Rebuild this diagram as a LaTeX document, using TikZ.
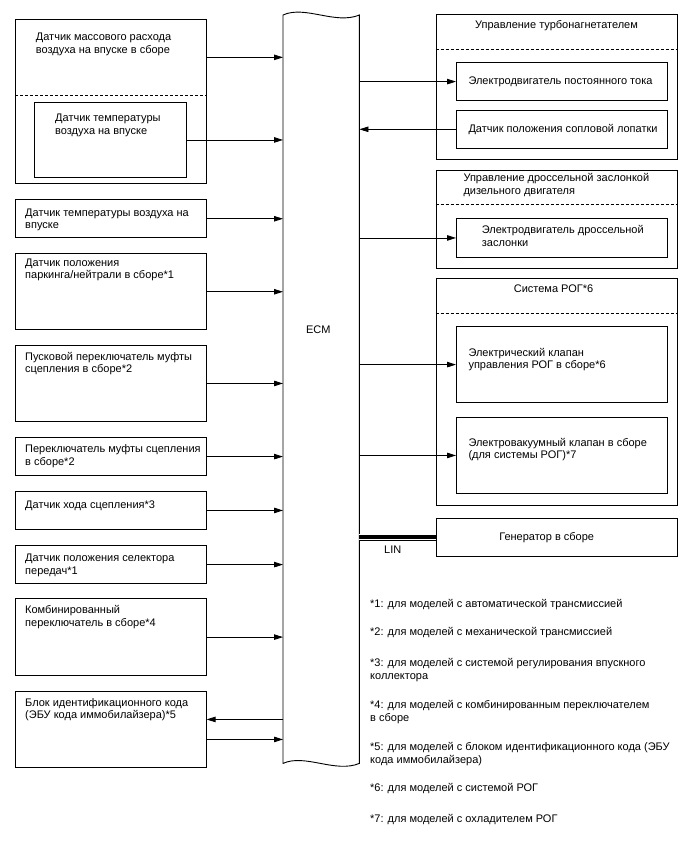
\documentclass[tikz,border=0pt]{standalone}
\usepackage{fontspec}
\setmainfont{Liberation Sans}
\usetikzlibrary{arrows.meta,positioning}

\begin{document}
\begin{tikzpicture}[
 x=1pt,y=-1pt,
 font=\fontsize{11}{12.5}\selectfont,
 blk/.style={draw,line width=0.9pt,anchor=north west,inner sep=0pt},
 part/.style={anchor=north west,inner sep=0pt},
 txt/.style={anchor=base west,align=left,inner sep=0pt},
 sep/.style={line width=0.9pt,dash pattern=on 3pt off 2pt},
 sig/.style={line width=0.8pt,-{Triangle[length=9pt,width=5.5pt]}},
]
\useasboundingbox (0,0) rectangle (688,852);

% ECM
\node[part,minimum width=76pt,minimum height=748pt] (ecm) at (283,15) {};
\draw[line width=0.9pt] (ecm.north west) .. controls ++(22,-10) and ++(-24,10) .. (ecm.north east)
  -- (ecm.south east) .. controls ++(-24,10) and ++(22,-10) .. (ecm.south west) -- cycle;
\node (ecmlbl) at (318.3,329.3) {ECM};

% left side
\node[blk,minimum width=190.4pt,minimum height=164pt] (mafbox) at (15.3,19.3) {};
\node[part,minimum width=190.4pt,minimum height=75.7pt] (maf) at (15.3,19.3) {};
\draw[sep] (maf.south west) -- (maf.south east);
\node[txt] (maftxt) at (35.7,53) {Датчик массового расхода\\воздуха на впуске в сборе};
\node[blk,minimum width=151.7pt,minimum height=75.6pt] (iat) at (34.3,101.7) {};
\node[txt] (iattxt) at (55,134.3) {Датчик температуры\\воздуха на впуске};

\node[blk,minimum width=190.4pt,minimum height=38pt] (iat2) at (15.3,199.3) {};
\node[txt] (iat2txt) at (25,228.7) {Датчик температуры воздуха на\\впуске};
\node[blk,minimum width=190.4pt,minimum height=76pt] (pnp) at (15.3,253.3) {};
\node[txt] (pnptxt) at (25,278.7) {Датчик положения\\паркинга/нейтрали в сборе*1};
\node[blk,minimum width=190.4pt,minimum height=76pt] (css) at (15.3,345) {};
\node[txt] (csstxt) at (25,372.7) {Пусковой переключатель муфты\\сцепления в сборе*2};
\node[blk,minimum width=190.4pt,minimum height=37.7pt] (cls) at (15.3,437.3) {};
\node[txt] (clstxt) at (25,465) {Переключатель муфты сцепления\\в сборе*2};
\node[blk,minimum width=190.4pt,minimum height=38pt] (cst) at (15.3,491) {};
\node[txt] (csttxt) at (25,508.5) {Датчик хода сцепления*3};
\node[blk,minimum width=190.4pt,minimum height=38.3pt] (sel) at (15.3,545) {};
\node[txt] (seltxt) at (25,574.3) {Датчик положения селектора\\передач*1};
\node[blk,minimum width=190.4pt,minimum height=76.7pt] (comb) at (15.3,598.3) {};
\node[txt] (combtxt) at (25,626) {Комбинированный\\переключатель в сборе*4};
\node[blk,minimum width=190.4pt,minimum height=76.6pt] (immo) at (15.3,690.7) {};
\node[txt] (immotxt) at (25,718.7) {Блок идентификационного кода\\(ЭБУ кода иммобилайзера)*5};

\draw[sig] (maf.east) -- (maf.east -| ecm.west);
\draw[sig] (iat.east) -- (iat.east -| ecm.west);
\draw[sig] (iat2.east) -- (iat2.east -| ecm.west);
\draw[sig] (pnp.east) -- (pnp.east -| ecm.west);
\draw[sig] (css.east) -- (css.east -| ecm.west);
\draw[sig] (cls.east) -- (cls.east -| ecm.west);
\draw[sig] (cst.east) -- (cst.east -| ecm.west);
\draw[sig] (sel.east) -- (sel.east -| ecm.west);
\draw[sig] (comb.east) -- (comb.east -| ecm.west);
\draw[sig] ([yshift=10pt]immo.east -| ecm.west) -- ([yshift=10pt]immo.east);
\draw[sig] ([yshift=-10pt]immo.east) -- ([yshift=-10pt]immo.east -| ecm.west);

% right side
\node[blk,minimum width=241.6pt,minimum height=145.3pt] (turbo) at (435.7,14) {};
\node[part,minimum width=241.6pt,minimum height=35.3pt] (turbohd) at (435.7,14) {};
\draw[sep] (turbohd.south west) -- (turbohd.south east);
\node[anchor=base,inner sep=0pt] (turbotxt) at (556.5,28.5) {Управление турбонагнетателем};
\node[blk,minimum width=210.7pt,minimum height=37.7pt] (dcm) at (456,62.3) {};
\node[txt] (dcmtxt) at (468.3,84.5) {Электродвигатель постоянного тока};
\node[blk,minimum width=210.7pt,minimum height=37.7pt] (vnt) at (456,110) {};
\node[txt] (vnttxt) at (468.3,132) {Датчик положения сопловой лопатки};

\node[blk,minimum width=241.6pt,minimum height=98.3pt] (thr) at (435.7,170) {};
\node[part,minimum width=241.6pt,minimum height=34.3pt] (thrhd) at (435.7,170) {};
\draw[sep] (thrhd.south west) -- (thrhd.south east);
\node[txt] (thrtxt) at (463.3,194.3) {Управление дроссельной заслонкой\\дизельного двигателя};
\node[blk,minimum width=210.7pt,minimum height=38.4pt] (thm) at (456,218.3) {};
\node[txt] (thmtxt) at (481.7,246) {Электродвигатель дроссельной\\заслонки};

\node[blk,minimum width=241.6pt,minimum height=227.3pt] (egr) at (435.7,277.7) {};
\node[part,minimum width=241.6pt,minimum height=35.6pt] (egrhd) at (435.7,277.7) {};
\draw[sep] (egrhd.south west) -- (egrhd.south east);
\node[anchor=base,inner sep=0pt] (egrtxt) at (553.5,292.8) {Система РОГ*6};
\node[blk,minimum width=210.7pt,minimum height=76.3pt] (egrv) at (456,326) {};
\node[txt] (egrvtxt) at (468.3,368.7) {Электрический клапан\\управления РОГ в сборе*6};
\node[blk,minimum width=210.7pt,minimum height=76.6pt] (vsv) at (456,416.7) {};
\node[txt] (vsvtxt) at (468.3,458.7) {Электровакуумный клапан в сборе\\(для системы РОГ)*7};

\node[blk,minimum width=241.6pt,minimum height=38.3pt] (gen) at (435.7,517.7) {};
\node[anchor=base,inner sep=0pt] (gentxt) at (546.7,540.2) {Генератор в сборе};

\draw[sig] (dcm.west -| ecm.east) -- (dcm.west);
\draw[sig] (vnt.west) -- (vnt.west -| ecm.east);
\draw[sig] (thm.west -| ecm.east) -- (thm.west);
\draw[sig] (egrv.west -| ecm.east) -- (egrv.west);
\draw[sig] (vsv.west -| ecm.east) -- (vsv.west);

% LIN bus
\draw[line width=7.6pt] (gen.west -| ecm.east) -- (gen.west);
\draw[white,line width=0.8pt] ([yshift=2.5pt]gen.west -| ecm.east) -- ([yshift=2.5pt]gen.west);
\draw[white,line width=0.8pt] ([yshift=-2.5pt]gen.west -| ecm.east) -- ([yshift=-2.5pt]gen.west);
\node (lin) at (392.7,549.3) {LIN};

% notes
\node[txt] (n1) at (370,607.5) {*1: для моделей с автоматической трансмиссией};
\node[txt] (n2) at (370,635.5) {*2: для моделей с механической трансмиссией};
\node[txt] (n3) at (370,679) {*3: для моделей с системой регулирования впускного\\коллектора};
\node[txt] (n4) at (370,721) {*4: для моделей с комбинированным переключателем\\в сборе};
\node[txt] (n5) at (370,763) {*5: для моделей с блоком идентификационного кода (ЭБУ\\кода иммобилайзера)};
\node[txt] (n6) at (370,791.5) {*6: для моделей с системой РОГ};
\node[txt] (n7) at (370,822.5) {*7: для моделей с охладителем РОГ};
\end{tikzpicture}
\end{document}
